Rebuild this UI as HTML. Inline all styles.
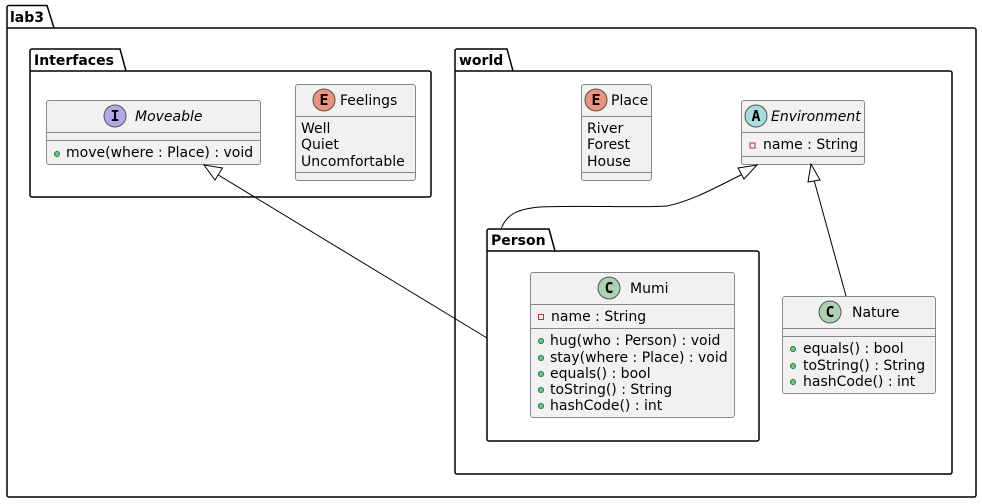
<!DOCTYPE html>
<html><head><meta charset="utf-8"><style>
html,body{margin:0;padding:0;background:#fff;}
svg{display:block;}
text{font-family:"DejaVu Sans","Liberation Sans",sans-serif;font-size:14px;fill:#000;}
.b{font-weight:bold;}
.i{font-style:italic;}
.box{fill:#f1f1f1;stroke:#888;stroke-width:1;}
.sep{stroke:#888;stroke-width:1;}
.pk{fill:none;stroke:#000;stroke-width:1.5;}
.ln{fill:none;stroke:#000;stroke-width:1;}
.tri{fill:#fff;stroke:#000;stroke-width:1;}
.pub{fill:#84be84;stroke:#038048;stroke-width:1;}
.prv{fill:none;stroke:#c82930;stroke-width:1;}
.ic{font-family:"DejaVu Sans Mono","Liberation Mono",monospace;font-weight:bold;font-size:15px;}
</style></head><body>
<svg width="982" height="504" viewBox="0 0 982 504" xmlns="http://www.w3.org/2000/svg">
<!-- lab3 -->
<path class="pk" d="M7,28 V7.5 A2,2 0 0 1 9,5.5 H47 L54,28 H974 A2,2 0 0 1 976,30 V495 A2,2 0 0 1 974,497 H9 A2,2 0 0 1 7,495 Z"/>
<line class="pk" x1="7" y1="28" x2="54" y2="28"/>
<text class="b" x="10" y="22">lab3</text>

<!-- Interfaces -->
<path class="pk" d="M30,71 V51 A2,2 0 0 1 32,49 H120 L126,71 H429 A2,2 0 0 1 431,73 V195 A2,2 0 0 1 429,197 H32 A2,2 0 0 1 30,195 Z"/>
<line class="pk" x1="30" y1="71" x2="126" y2="71"/>
<text class="b" x="34" y="65">Interfaces</text>

<!-- world -->
<path class="pk" d="M455,71 V51 A2,2 0 0 1 457,49 H507 L513,71 H950 A2,2 0 0 1 952,73 V472 A2,2 0 0 1 950,474 H457 A2,2 0 0 1 455,472 Z"/>
<line class="pk" x1="455" y1="71" x2="513" y2="71"/>
<text class="b" x="459" y="65">world</text>

<!-- Person -->
<path class="pk" d="M487,251 V231 A2,2 0 0 1 489,229 H549 L555,251 H757 A2,2 0 0 1 759,253 V439 A2,2 0 0 1 757,441 H489 A2,2 0 0 1 487,439 Z"/>
<line class="pk" x1="487" y1="251" x2="555" y2="251"/>
<text class="b" x="491" y="245">Person</text>

<!-- Moveable -->
<rect class="box" x="46.5" y="100.5" width="214" height="64" rx="2.5"/>
<line class="sep" x1="46.5" y1="132.5" x2="260.5" y2="132.5"/>
<line class="sep" x1="46.5" y1="140.5" x2="260.5" y2="140.5"/>
<circle cx="115" cy="116" r="11" fill="#b4a7e5" stroke="#555"/>
<text class="ic" x="110.5" y="121">I</text>
<text class="i" x="135" y="121">Moveable</text>
<circle class="pub" cx="57" cy="154" r="2.5"/>
<text x="66" y="157">move(where : Place) : void</text>

<!-- Feelings -->
<rect class="box" x="295.5" y="84.5" width="120" height="96" rx="2.5"/>
<line class="sep" x1="295.5" y1="116.5" x2="415.5" y2="116.5"/>
<line class="sep" x1="295.5" y1="172.5" x2="415.5" y2="172.5"/>
<circle cx="324" cy="100" r="11" fill="#eb937f" stroke="#555"/>
<text class="ic" x="319.5" y="105">E</text>
<text x="340" y="105">Feelings</text>
<text x="301" y="133">Well</text>
<text x="301" y="149">Quiet</text>
<text x="301" y="166">Uncomfortable</text>

<!-- Place -->
<rect class="box" x="581.5" y="84.5" width="70" height="96" rx="2.5"/>
<line class="sep" x1="581.5" y1="116.5" x2="651.5" y2="116.5"/>
<line class="sep" x1="581.5" y1="172.5" x2="651.5" y2="172.5"/>
<circle cx="596" cy="100" r="11" fill="#eb937f" stroke="#555"/>
<text class="ic" x="591.5" y="105">E</text>
<text x="611" y="105">Place</text>
<text x="587" y="133">River</text>
<text x="587" y="149">Forest</text>
<text x="587" y="166">House</text>

<!-- Environment -->
<rect class="box" x="741.5" y="100.5" width="123" height="64" rx="2.5"/>
<line class="sep" x1="741.5" y1="132.5" x2="864.5" y2="132.5"/>
<line class="sep" x1="741.5" y1="156.5" x2="864.5" y2="156.5"/>
<circle cx="756" cy="116" r="11" fill="#a9dcdf" stroke="#555"/>
<text class="ic" x="751.5" y="121">A</text>
<text class="i" x="771" y="121">Environment</text>
<rect class="prv" x="750" y="143" width="5" height="5"/>
<text x="763" y="149">name : String</text>

<!-- Mumi -->
<rect class="box" x="530.5" y="272.5" width="204" height="145" rx="2.5"/>
<line class="sep" x1="530.5" y1="304.5" x2="734.5" y2="304.5"/>
<line class="sep" x1="530.5" y1="328.5" x2="734.5" y2="328.5"/>
<circle cx="609" cy="288" r="11" fill="#add1b2" stroke="#555"/>
<text class="ic" x="604.5" y="293">C</text>
<text x="630" y="293">Mumi</text>
<rect class="prv" x="538.5" y="314.5" width="5" height="5"/>
<text x="551" y="321">name : String</text>
<circle class="pub" cx="541" cy="341" r="2.5"/><text x="550" y="345">hug(who : Person) : void</text>
<circle class="pub" cx="541" cy="358" r="2.5"/><text x="550" y="362">stay(where : Place) : void</text>
<circle class="pub" cx="541" cy="374" r="2.5"/><text x="550" y="378">equals() : bool</text>
<circle class="pub" cx="541" cy="390" r="2.5"/><text x="550" y="394">toString() : String</text>
<circle class="pub" cx="541" cy="406" r="2.5"/><text x="550" y="410">hashCode() : int</text>

<!-- Nature -->
<rect class="box" x="782.5" y="296.5" width="153" height="97" rx="2.5"/>
<line class="sep" x1="782.5" y1="328.5" x2="935.5" y2="328.5"/>
<line class="sep" x1="782.5" y1="336.5" x2="935.5" y2="336.5"/>
<circle cx="830" cy="312" r="11" fill="#add1b2" stroke="#555"/>
<text class="ic" x="825.5" y="317">C</text>
<text x="852" y="317">Nature</text>
<circle class="pub" cx="793" cy="349" r="2.5"/><text x="803" y="353">equals() : bool</text>
<circle class="pub" cx="793" cy="366" r="2.5"/><text x="803" y="370">toString() : String</text>
<circle class="pub" cx="793" cy="382" r="2.5"/><text x="803" y="386">hashCode() : int</text>

<!-- Moveable -> Person -->
<line class="ln" x1="215" y1="173" x2="487" y2="338"/>
<polygon class="tri" points="204,165 222.5,168 215,180"/>

<!-- Environment <- Person -->
<path class="ln" d="M501,229 C506,216 515,209 540,207 C580,205 640,208 667,206 C695,200 720,185 743,174"/>
<polygon class="tri" points="757,165 738,168 744,179"/>

<!-- Environment <- Nature -->
<line class="ln" x1="814" y1="180" x2="846" y2="296"/>
<polygon class="tri" points="811,164 808,182 820,180"/>
</svg>
</body></html>
